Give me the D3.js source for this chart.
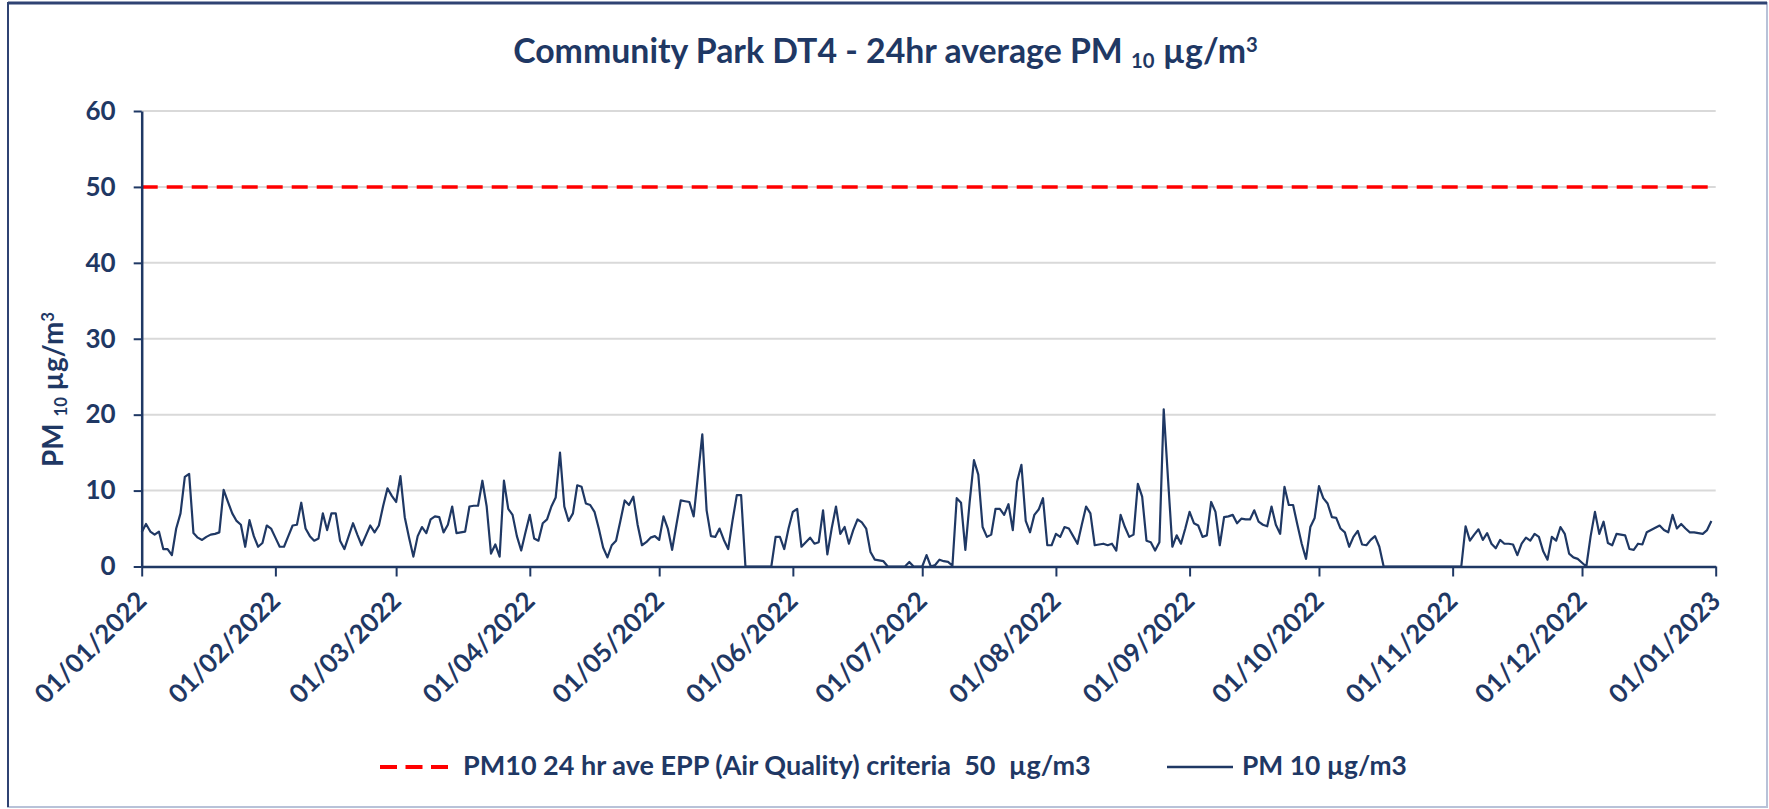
<!DOCTYPE html>
<html>
<head>
<meta charset="utf-8">
<script src="https://cdn.jsdelivr.net/npm/d3@7"></script>
<style>
  body { margin: 0; background: #fff; }
  svg { display: block; }
  text { font-family: Lato, "Open Sans", sans-serif; font-weight: 700; fill: #1f3864; }
</style>
</head>
<body>
<svg id="chart" width="1769" height="809"></svg>
<script>
// daily 24hr average PM10 (ug/m3), one array per month of 2022
const jan = [4.5,5.6,4.6,4.2,4.6,2.3,2.3,1.5,5.0,7.0,11.8,12.2,4.4,3.8,3.5,3.9,4.2,4.3,4.5,10.1,8.5,7.0,6.0,5.5,2.6,6.1,4.0,2.6,3.1,5.4,5.0];
const feb = [3.8,2.6,2.6,4.0,5.4,5.5,8.4,5.0,4.0,3.4,3.7,7.0,4.8,7.0,7.0,3.4,2.3,4.0,5.7,4.2,2.8,4.1,5.4,4.5,5.4,8.0,10.3,9.3];
const mar = [8.5,11.9,6.5,3.8,1.3,4.0,5.2,4.4,6.2,6.6,6.5,4.5,5.5,7.9,4.4,4.5,4.6,7.9,8.0,8.0,11.3,7.9,1.7,2.9,1.3,11.3,7.6,6.8,4.0,2.1,4.5];
const apr = [6.8,3.7,3.4,5.7,6.2,7.9,9.1,15.0,7.9,6.0,7.0,10.7,10.5,8.3,8.1,7.2,5.0,2.5,1.2,2.8,3.4,6.0,8.7,8.1,9.2,5.5,2.8,3.2,3.8,4.0];
const may = [3.5,6.6,5.0,2.2,5.5,8.7,8.6,8.5,6.6,12.0,17.4,7.4,4.0,3.9,5.0,3.5,2.3,6.0,9.4,9.4,0,0,0,0,0,0,0,3.9,3.9,2.3,5.0];
const jun = [7.2,7.6,2.6,3.2,3.8,3.0,3.2,7.4,1.6,5.0,7.9,4.3,5.2,3.0,4.8,6.2,5.8,5.0,1.9,0.9,0.8,0.7,0,0,0,0,0,0.6,0,0];
const jul = [0,1.5,0,0.2,0.9,0.7,0.6,0.1,9.0,8.4,2.2,8.5,14.0,12.1,5.2,3.9,4.2,7.6,7.6,6.8,8.2,4.8,11.2,13.4,6.0,4.5,6.8,7.5,9.0,2.8,2.8];
const aug = [4.3,3.9,5.2,5.0,4.0,3.0,5.5,7.9,7.0,2.8,2.9,3.0,2.8,3.0,2.1,6.8,5.2,3.9,4.2,10.9,9.2,3.4,3.2,2.1,3.2,20.7,11.5,2.6,4.1,3.0,5.0];
const sep = [7.2,5.7,5.4,3.9,4.1,8.5,7.2,2.8,6.5,6.6,6.8,5.7,6.3,6.2,6.2,7.4,5.9,5.5,5.3,7.9,5.5,4.3,10.5,8.1,8.1,5.5,3.0,1.0,5.2,6.4];
const oct = [10.6,9.0,8.3,6.5,6.4,5.0,4.5,2.6,3.9,4.7,2.9,2.8,3.5,4.0,2.6,0,0,0,0,0,0,0,0,0,0,0,0,0,0,0,0];
const nov = [0,0,0,5.3,3.4,4.2,4.9,3.5,4.4,3.0,2.4,3.5,3.0,3.0,2.9,1.5,3.0,3.8,3.4,4.3,3.9,2.0,0.9,3.9,3.4,5.2,4.3,1.7,1.2,1.0];
const dec = [0.5,0,4.0,7.2,4.3,5.9,3.1,2.8,4.3,4.2,4.1,2.3,2.2,3.0,2.9,4.5,4.8,5.1,5.4,4.8,4.5,6.8,5.0,5.6,5.0,4.5,4.5,4.4,4.3,4.8,6.0];

const criteria = 50;
const yTicks = [0, 10, 20, 30, 40, 50, 60];
const startDate = new Date(2022, 0, 1);
const endDate = new Date(2023, 0, 1);
const legendLabels = ["PM10 24 hr ave EPP (Air Quality) criteria  50  \u00b5g/m3", "PM 10 \u00b5g/m3"];

const navy = "#1f3864";
const pm10 = [].concat(jan, feb, mar, apr, may, jun, jul, aug, sep, oct, nov, dec);
const series = pm10.map((v, i) => ({date: d3.timeDay.offset(startDate, i), value: v}));

const svg = d3.select("#chart");
const W = 1769, H = 809;
const margin = {left: 141.7, right: 53.3, top: 111, bottom: 242.5};

const x = d3.scaleTime()
    .domain([startDate, endDate])
    .range([margin.left, W - margin.right]);
const y = d3.scaleLinear()
    .domain([0, 60])
    .range([H - margin.bottom, margin.top]);

// make a text fit a width by scaling its font size
function fitWidth(sel, w) {
  const len = sel.node().getComputedTextLength();
  const fs = parseFloat(sel.style("font-size"));
  sel.style("font-size", (fs * w / len) + "px");
}

/* frame */
svg.append("rect").attr("width", W).attr("height", H).attr("fill", "#fff");
svg.append("rect")
    .attr("x", 8).attr("y", 3).attr("width", W - 10).attr("height", H - 5)
    .attr("fill", "none").attr("stroke", "#b8c2d8").attr("stroke-width", 2);
svg.append("line").attr("x1", 8).attr("x2", W - 2).attr("y1", 3).attr("y2", 3)
    .attr("stroke", "#2f4373").attr("stroke-width", 3);
svg.append("line").attr("x1", 8).attr("x2", 8).attr("y1", 2).attr("y2", H - 2)
    .attr("stroke", "#2f4373").attr("stroke-width", 2);

/* title */
const title = svg.append("text")
    .attr("x", 885.5).attr("y", 63)
    .attr("text-anchor", "middle")
    .style("font-size", "34px");
title.append("tspan").text("Community Park DT4 - 24hr average PM ");
title.append("tspan").attr("font-size", "0.6em").attr("dy", "0.25em").text("10");
title.append("tspan").attr("dy", "-0.15em").text(" \u00b5g/m");
title.append("tspan").attr("font-size", "0.6em").attr("dy", "-0.55em").text("3");
fitWidth(title, 745);

/* gridlines */
svg.append("g")
    .selectAll("line")
    .data(yTicks.filter(d => d > 0))
    .join("line")
      .attr("x1", x(startDate)).attr("x2", x(endDate))
      .attr("y1", d => y(d)).attr("y2", d => y(d))
      .attr("stroke", "#d9d9d9").attr("stroke-width", 2);

/* criteria line */
const line = d3.line().x(d => x(d.date)).y(d => y(d.value));
svg.append("path")
    .datum([{date: startDate, value: criteria}, {date: endDate, value: criteria}])
    .attr("d", line)
    .attr("fill", "none").attr("stroke", "#ff0000")
    .attr("stroke-width", 3.5).attr("stroke-dasharray", "16,9");

/* axes */
const yAxis = svg.append("g")
    .attr("transform", `translate(${margin.left},0)`)
    .call(d3.axisLeft(y).tickValues(yTicks).tickSize(8).tickPadding(18).tickSizeOuter(0));
yAxis.select(".domain").attr("stroke", navy).attr("stroke-width", 2.5);
yAxis.selectAll(".tick line").attr("stroke", navy).attr("stroke-width", 2);
yAxis.selectAll(".tick text")
    .attr("fill", navy)
    .style("font-family", "Lato").style("font-weight", 700).style("font-size", "26px");

const xAxis = svg.append("g")
    .attr("transform", `translate(0,${y(0)})`)
    .call(d3.axisBottom(x).ticks(d3.timeMonth.every(1)).tickFormat(d3.timeFormat("%d/%m/%Y"))
      .tickSize(10).tickSizeOuter(0));
xAxis.select(".domain").attr("stroke", navy).attr("stroke-width", 2.5);
xAxis.selectAll(".tick line").attr("stroke", navy).attr("stroke-width", 2);
xAxis.selectAll(".tick text")
    .attr("fill", navy)
    .attr("x", 0).attr("y", 0).attr("dy", null)
    .attr("text-anchor", "end")
    .attr("transform", "translate(6,36) rotate(-45)")
    .style("font-family", "Lato").style("font-weight", 700).style("font-size", "26px");

/* y axis title */
const yLabel = svg.append("text")
    .attr("transform", "translate(63,389.5) rotate(-90)")
    .attr("text-anchor", "middle")
    .style("font-size", "22px");
yLabel.append("tspan").text("PM ");
yLabel.append("tspan").attr("font-size", "0.6em").attr("dy", "0.25em").text("10");
yLabel.append("tspan").attr("dy", "-0.15em").text(" \u00b5g/m");
yLabel.append("tspan").attr("font-size", "0.6em").attr("dy", "-0.55em").text("3");
fitWidth(yLabel, 155);

/* PM10 series */
svg.append("path")
    .datum(series)
    .attr("d", line)
    .attr("fill", "none").attr("stroke", navy)
    .attr("stroke-width", 2.2).attr("stroke-linejoin", "round");

/* legend */
const legend = svg.append("g");
legend.append("line")
    .attr("x1", 380).attr("x2", 448).attr("y1", 767).attr("y2", 767)
    .attr("stroke", "#ff0000").attr("stroke-width", 4).attr("stroke-dasharray", "17,8.5");
const leg1 = legend.append("text")
    .attr("x", 463).attr("y", 775)
    .style("white-space", "pre").style("font-size", "26px")
    .text(legendLabels[0]);
fitWidth(leg1, 628);
legend.append("line")
    .attr("x1", 1167).attr("x2", 1233).attr("y1", 767).attr("y2", 767)
    .attr("stroke", navy).attr("stroke-width", 2.5);
const leg2 = legend.append("text")
    .attr("x", 1242).attr("y", 775)
    .style("white-space", "pre").style("font-size", "26px")
    .text(legendLabels[1]);
fitWidth(leg2, 165);
</script>
</body>
</html>
